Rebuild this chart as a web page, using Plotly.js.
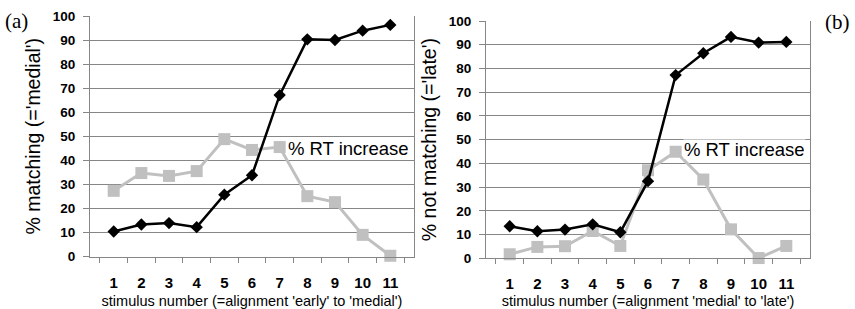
<!DOCTYPE html>
<html>
<head>
<meta charset="utf-8">
<script src="https://cdn.plot.ly/plotly-3.0.1.min.js"></script>
<style>html,body{margin:0;padding:0;background:#fff;}#chart{width:855px;height:309px;}</style>
</head>
<body>
<div id="chart"></div>
<script>
const stimulus = ['1','2','3','4','5','6','7','8','9','10','11'];
const matchingA = [10.4, 13.3, 13.9, 12.2, 25.7, 33.8, 67.1, 90.3, 90.0, 93.9, 96.3];
const rtIncreaseA = [27.3, 34.7, 33.5, 35.5, 48.8, 44.3, 45.5, 25.1, 22.6, 9.0, 0.3];
const notMatchingB = [13.5, 11.4, 12.1, 14.3, 11.0, 32.5, 77.2, 86.4, 93.3, 90.9, 91.2];
const rtIncreaseB = [1.7, 4.8, 5.1, 11.5, 5.2, 37.1, 44.9, 33.2, 12.2, 0.1, 5.2];
const yTicks = [0,10,20,30,40,50,60,70,80,90,100];
const rtLabel = '% RT increase';

const FONT = 'Liberation Sans, Arial, sans-serif';
const GRID = '#868686';
const GRAY = '#c0c0c0';

function grayTrace(y, xa, ya) {
  return {x: stimulus, y: y, xaxis: xa, yaxis: ya, type: 'scatter', mode: 'lines+markers',
    line: {color: GRAY, width: 3}, marker: {symbol: 'square', size: 12, color: GRAY},
    showlegend: false, cliponaxis: false};
}
function blackTrace(y, xa, ya) {
  return {x: stimulus, y: y, xaxis: xa, yaxis: ya, type: 'scatter', mode: 'lines+markers',
    line: {color: '#000', width: 2.5}, marker: {symbol: 'diamond', size: 9.5, color: '#000'},
    showlegend: false, cliponaxis: false};
}

const data = [
  grayTrace(rtIncreaseA, 'x', 'y'),
  blackTrace(matchingA, 'x', 'y'),
  grayTrace(rtIncreaseB, 'x2', 'y2'),
  blackTrace(notMatchingB, 'x2', 'y2')
];

function xAxis(domain, anchor, title) {
  return {
    domain: domain, anchor: anchor, type: 'category',
    categoryorder: 'array', categoryarray: stimulus,
    showgrid: false, showline: true, linecolor: GRID, linewidth: 1,
    ticks: 'outside', tickson: 'boundaries', ticklen: 5, tickcolor: GRID, tickwidth: 1,
    tickfont: {family: FONT, size: 15, color: '#000', weight: 'bold'},
    ticklabelstandoff: 12,
    title: {text: title, font: {family: FONT, size: 14.5, color: '#000'}, standoff: 7},
    zeroline: false, fixedrange: true
  };
}
function yAxis(domain, anchor, title) {
  return {
    domain: domain, anchor: anchor, range: [0, 100],
    tickvals: yTicks, ticktext: yTicks.map(String),
    showgrid: true, gridcolor: GRID, gridwidth: 1,
    showline: true, linecolor: GRID, linewidth: 1, mirror: true,
    ticks: 'outside', ticklen: 6, tickcolor: GRID, tickwidth: 1,
    tickfont: {family: FONT, size: 13.5, color: '#000', weight: 'bold'},
    ticklabelstandoff: 5,
    title: {text: title, font: {family: FONT, size: 19.5, color: '#000'}, standoff: 6},
    zeroline: false, fixedrange: true
  };
}

const layout = {
  width: 855, height: 309,
  margin: {l: 0, r: 0, t: 0, b: 0, pad: 0},
  paper_bgcolor: '#fff', plot_bgcolor: '#fff',
  showlegend: false,
  xaxis: xAxis([90/855, 414/855], 'y', "stimulus number (=alignment 'early' to 'medial')"),
  yaxis: yAxis([1 - 256.5/309, 1 - 16/309], 'x', "% matching (='medial')"),
  xaxis2: xAxis([486/855, 810/855], 'y2', "stimulus number (=alignment 'medial' to 'late')"),
  yaxis2: yAxis([1 - 258.3/309, 1 - 21/309], 'x2', "% not matching (='late')"),
  annotations: [
    {xref: 'paper', yref: 'paper', x: 287/855, y: 1 - 148/309, xanchor: 'left', yanchor: 'middle',
     text: rtLabel, showarrow: false, bgcolor: '#fff', borderpad: 0, height: 18, valign: 'middle',
     font: {family: FONT, size: 18.5, color: '#000'}},
    {xref: 'paper', yref: 'paper', x: 683/855, y: 1 - 149/309, xanchor: 'left', yanchor: 'middle',
     text: rtLabel, showarrow: false, bgcolor: '#fff', borderpad: 0, height: 18, valign: 'middle',
     font: {family: FONT, size: 18.5, color: '#000'}},
    {xref: 'paper', yref: 'paper', x: 16/855, y: 1 - 21/309, xanchor: 'center', yanchor: 'middle',
     text: '(a)', showarrow: false, font: {family: 'Liberation Serif, Times New Roman, serif', size: 21, color: '#000'}},
    {xref: 'paper', yref: 'paper', x: 837/855, y: 1 - 22.5/309, xanchor: 'center', yanchor: 'middle',
     text: '(b)', showarrow: false, font: {family: 'Liberation Serif, Times New Roman, serif', size: 21, color: '#000'}}
  ]
};

Plotly.newPlot('chart', data, layout, {staticPlot: true, displayModeBar: false});
</script>
</body>
</html>
